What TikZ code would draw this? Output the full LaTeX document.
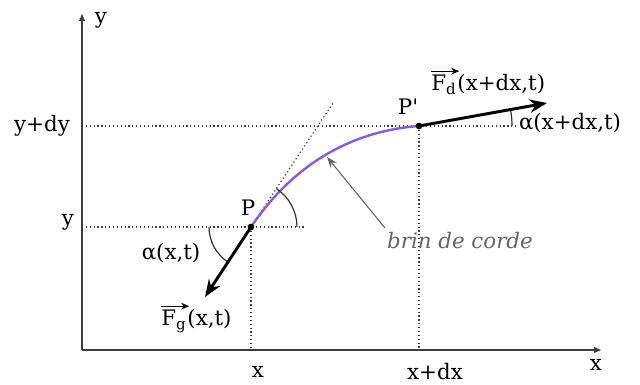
\documentclass[tikz,border=0pt]{standalone}
\usepackage{fontspec}
\setmainfont{DejaVu Serif}
\usetikzlibrary{arrows.meta,calc}
\definecolor{curvecol}{RGB}{135,90,230}
\definecolor{axiscol}{RGB}{60,60,60}
\definecolor{labgray}{RGB}{100,100,100}
\begin{document}
\begin{tikzpicture}[x=0.75pt,y=0.75pt,
  lab/.style={font=\fontsize{16}{18}\selectfont, inner sep=0pt},
  axis/.style={draw=axiscol, line width=1.2pt, -{Latex[length=6pt,width=5pt]}},
  guide/.style={draw=black!75, dotted, line width=0.9pt},
  force/.style={draw=black, line width=2.2pt, -{Stealth[length=13pt,width=10pt]}},
  vecarrow/.style={draw=black, line width=0.9pt, -{Stealth[length=6pt,width=5pt]}},
  anglearc/.style={draw=black!80, line width=0.9pt},
  dot/.style={circle, fill=black, inner sep=0pt, minimum size=5pt}]
\useasboundingbox (0,0) rectangle (640,385);
% key points
\coordinate (O) at (82,35);
\coordinate (Ytop) at (82,372);
\coordinate (Xend) at (602,35);
\coordinate (P) at (251,158);
\coordinate (Pp) at (419,259);
\coordinate (T) at (333,282);
\coordinate (Fg) at (205,88);
\coordinate (Fd) at (547,282);
\coordinate (Hy) at (82,158);
\coordinate (Hy2) at (305,158);
\coordinate (Hdy) at (82,259);
\coordinate (Hdy2) at (518,259);
\coordinate (Vx) at (251,35);
\coordinate (Vdx) at (419,35);
% guides
\draw[guide] (Hy) -- (Hy2);
\draw[guide] (Hdy) -- (Hdy2);
\draw[guide] (P) -- (Vx);
\draw[guide] (Pp) -- (Vdx);
\draw[guide] (P) -- (T);
% axes
\draw[axis] (O) -- (Ytop);
\draw[axis] (O) -- (Xend);
% curve
\draw[curvecol, line width=1.8pt] (P) .. controls (286,210) and (340,253) .. (Pp);
% angle arcs
\draw[anglearc] ($(P)+(46,0)$) arc[start angle=0, end angle=56.5, radius=46];
\draw[anglearc] ($(P)+(-42,0)$) arc[start angle=180, end angle=236.6, radius=42];
\draw[anglearc] ($(Pp)+(93,0)$) arc[start angle=0, end angle=10.3, radius=93];
% forces
\draw[force] (P) -- (Fg);
\draw[force] (Pp) -- (Fd);
\node[dot] (Pd) at (P) {};
\node[dot] (Ppd) at (Pp) {};
% brin de corde
\node[lab, text=labgray, font=\fontsize{16}{18}\selectfont\itshape] (brin) at (460,144) {brin de corde};
\coordinate (brinA) at (385,157);
\coordinate (brinB) at (327,228);
\draw[labgray, line width=0.8pt, -{Stealth[length=8pt,width=6pt]}] (brinA) -- (brinB);
% labels
\node[lab] (ly) at (101,365) {y};
\node[lab] (lx) at (596,20) {x};
\node[lab] (lxx) at (258,13) {x};
\node[lab] (lxdx) at (435,13) {x+dx};
\node[lab] (lydy) at (42,259) {y+dy};
\node[lab] (lyy) at (68,163) {y};
\node[lab] (lP) at (248,177) {P};
\node[lab] (lPp) at (408,278) {P\textquotesingle};
% F_d label
\node[lab, anchor=base west] (lFdF) at (431,294) {F\textsubscript{d}};
\node[lab, anchor=base west, inner xsep=0.5pt] (lFdR) at (lFdF.base east) {(x+dx,t)};
\draw[vecarrow] ([yshift=3pt]lFdF.north west) -- ([yshift=3pt,xshift=2pt]lFdF.north east);
\node[lab] (lad) at (570,262) {α(x+dx,t)};
\node[lab] (lax) at (171,132) {α(x,t)};
% F_g label
\node[lab, anchor=base west] (lFgF) at (161,59) {F\textsubscript{g}};
\node[lab, anchor=base west, inner xsep=0.5pt] (lFgR) at (lFgF.base east) {(x,t)};
\draw[vecarrow] ([yshift=3pt]lFgF.north west) -- ([yshift=3pt,xshift=2pt]lFgF.north east);
\end{tikzpicture}
\end{document}
